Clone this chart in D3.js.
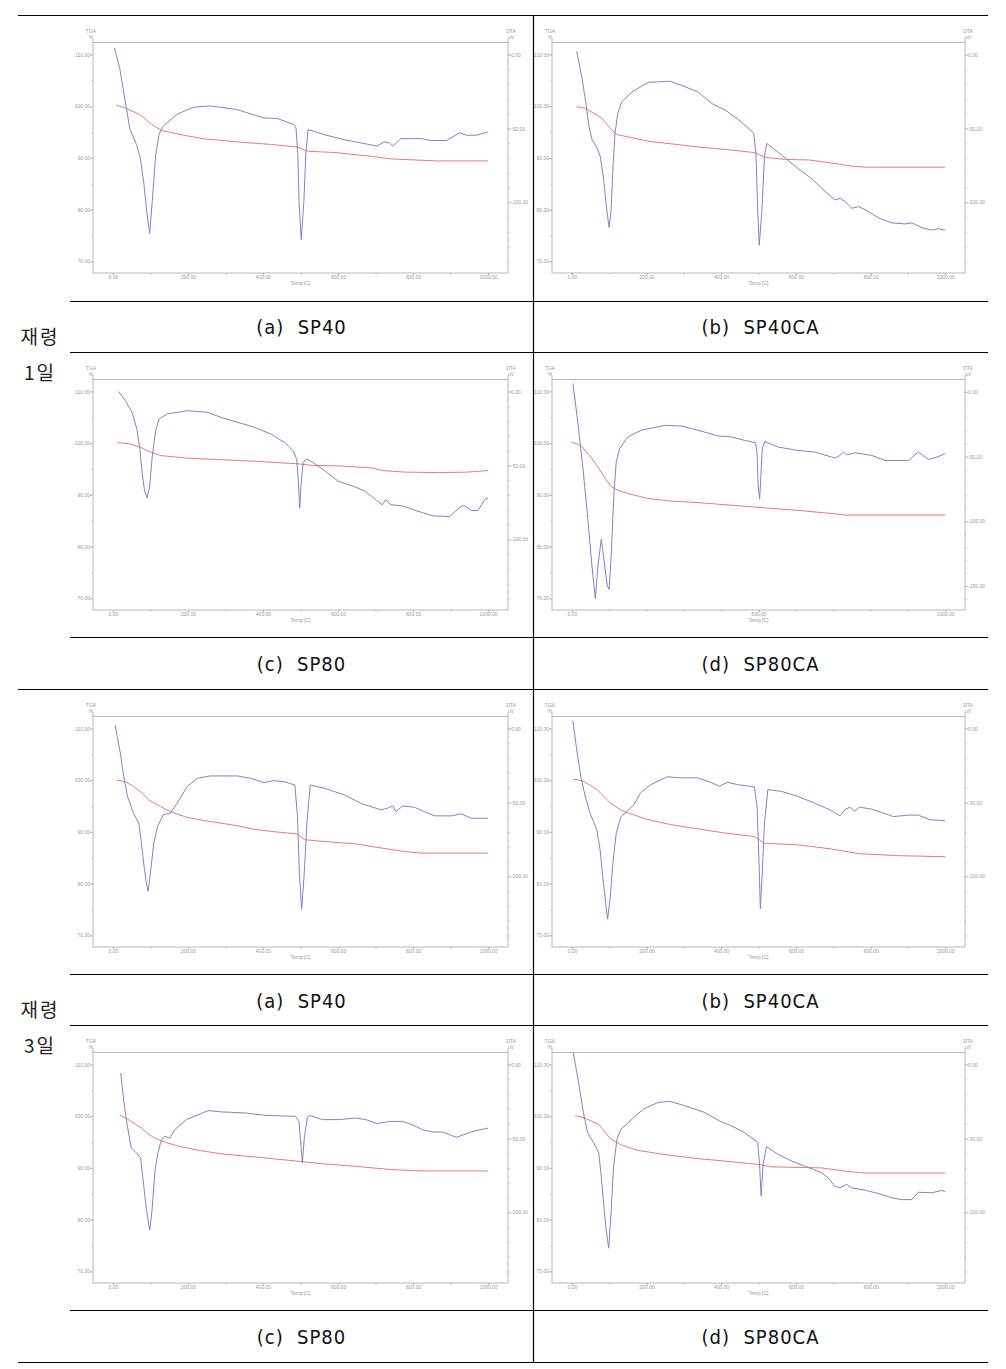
<!DOCTYPE html>
<meta charset="utf-8">

<style>
body { margin: 0; background: #fff; }

.ax text {
  font: 5px "Liberation Sans", Arial, sans-serif;
  fill: #9a9a9a;
}
.ax line { stroke: #b8b8b8; }

.small {
  font: 5px "Liberation Sans", Arial, sans-serif;
  fill: #9a9a9a;
}

.cap {
  font-family: "Liberation Sans Narrow", "DejaVu Sans Condensed", "Liberation Sans", sans-serif;
  font-size: 20px;
  letter-spacing: 1px;
  fill: #111;
}

.age {
  font-family: "Noto Sans CJK KR", sans-serif;
  font-size: 19px;
  letter-spacing: 2px;
  fill: #222;
}
</style>

<div id="chart"></div>

<body>
  <script src="https://d3js.org/d3.v7.min.js"></script>
  <script>
  // ---- values: [temperature C, value] ----
  // age 1 day
  var dta_SP40_1d = [[4,4.5],[18,-9],[31,-29],[45,-50],[63,-61],[73,-70],[82,-86],[91,-108],[98,-121],[105,-99],[114,-68],[123,-54],[134,-48.5],[170,-40.6],[214,-35.7],[259,-34.8],[330,-37.2],[402,-42.9],[438,-43.3],[482,-47.4],[488,-49.7],[493,-67.7],[496,-99.3],[502,-125.3],[509,-99.3],[514,-67.7],[520,-50.8],[563,-54.2],[616,-57.6],[661,-59.8],[704,-62],[723,-59.1],[737,-59.8],[746,-62],[768,-56.9],[822,-56.9],[848,-58.2],[889,-58.2],[924,-53],[942,-54.6],[969,-54.6],[1000,-52.4]];
  var tga_SP40_1d = [[9,100.2],[31,99.7],[71,98.4],[103,96.5],[129,95.3],[188,94.4],[241,93.7],[330,93.1],[420,92.6],[491,92.1],[518,91.3],[598,91.0],[688,90.3],[741,89.8],[866,89.4],[1000,89.4]];

  var dta_SP40CA_1d = [[13,2.2],[27,-15.5],[38,-33.2],[46,-48.7],[54,-57.5],[67,-63],[76,-68.6],[85,-84],[94,-106],[100,-117],[105,-106],[111,-73],[116,-53],[123,-39.8],[134,-32],[161,-25.4],[205,-18.8],[263,-18.1],[295,-21],[339,-25.4],[375,-33.2],[411,-37.6],[447,-44.2],[487,-53.1],[493,-66.4],[498,-106],[502,-129],[509,-106],[516,-68.6],[522,-60.2],[554,-66.4],[607,-77.4],[643,-84],[670,-90.7],[705,-98.4],[719,-97.3],[732,-99.5],[750,-104],[768,-102.9],[786,-105],[822,-110.6],[857,-113.9],[893,-114.6],[911,-113.9],[938,-117.2],[964,-118.8],[982,-117.9],[1000,-118.8]];
  var tga_SP40CA_1d = [[13,99.9],[36,99.6],[80,97.7],[107,95.4],[121,94.5],[161,93.9],[205,93.2],[268,92.7],[339,92.1],[429,91.5],[491,91.0],[518,90.1],[572,89.7],[634,89.6],[697,89.0],[750,88.4],[786,88.2],[1000,88.2]];

  var dta_SP80_1d = [[15,0],[33,-6.1],[51,-14.1],[64,-25.5],[72,-39.1],[78,-55],[84,-66.4],[91,-72],[98,-64.1],[105,-43.6],[114,-26.6],[123,-18.6],[145,-15.2],[199,-13],[252,-14.1],[288,-17.5],[333,-20.9],[378,-24.3],[422,-28.9],[458,-34.5],[481,-40.2],[490,-45.9],[494,-59.6],[498,-78.9],[501,-64.1],[507,-48.2],[516,-45.5],[534,-48.2],[566,-53.9],[601,-60.7],[646,-64.6],[673,-67.5],[700,-73.2],[718,-76.6],[727,-73.2],[740,-76.6],[771,-77.3],[807,-80.5],[852,-84.1],[897,-84.6],[928,-77.7],[937,-77.3],[955,-80.5],[973,-80.5],[991,-73.2],[1000,-72.1]];
  var tga_SP80_1d = [[11,100.1],[42,99.9],[73,99.2],[100,98.3],[127,97.6],[199,97.1],[288,96.8],[378,96.5],[494,96.0],[530,95.7],[601,95.6],[691,95.2],[718,94.7],[780,94.4],[870,94.3],[942,94.4],[1000,94.7]];

  var dta_SP80CA_1d = [[3,6.5],[16,-23.3],[30,-59.5],[43,-98.3],[54,-134.5],[63,-159.8],[70,-134.5],[79,-113.8],[86,-129.3],[95,-150],[100,-152.6],[106,-124.1],[113,-77.6],[119,-54.3],[128,-44],[150,-34.9],[186,-29.7],[249,-25.9],[293,-26.4],[338,-29.7],[392,-34.1],[428,-34.9],[463,-37.5],[492,-39.3],[496,-46.5],[499,-72.4],[503,-82.8],[506,-67.2],[510,-44],[517,-38.3],[553,-42.7],[606,-45.3],[651,-46.5],[705,-51.2],[718,-49.1],[727,-46.5],[736,-48.6],[759,-47.1],[803,-49.1],[839,-53],[902,-53],[928,-46.5],[955,-52.2],[978,-50.4],[1000,-47.8]];
  var tga_SP80CA_1d = [[0,100.2],[25,99.5],[47,97.7],[70,95.4],[92,92.9],[106,91.6],[123,90.9],[159,90.1],[204,89.3],[267,88.8],[338,88.5],[428,88.0],[517,87.5],[606,87.0],[696,86.4],[732,86.1],[1000,86.1]];

  // age 3 days
  var dta_SP40_3d = [[6,2.2],[20,-16.9],[29,-32.6],[39,-46.1],[55,-57.3],[69,-64],[75,-75.3],[82,-91],[89,-104.5],[94,-110.1],[100,-97.7],[109,-77.5],[119,-66.3],[134,-58.4],[153,-57.3],[171,-50.6],[198,-39.3],[225,-33.7],[260,-32.1],[331,-32.1],[367,-33.7],[403,-36.6],[429,-35.3],[456,-36],[485,-38.2],[492,-59.5],[497,-97.7],[503,-122.5],[510,-97.7],[517,-64],[526,-38.2],[563,-40.4],[617,-44.9],[661,-50.6],[715,-55.1],[732,-53.9],[746,-52.4],[755,-56.2],[772,-52.4],[804,-53.3],[830,-56.2],[857,-59.1],[902,-59.1],[928,-57.7],[955,-60.7],[1000,-60.7]];
  var tga_SP40_3d = [[11,100.0],[33,99.7],[55,98.8],[78,97.5],[95,96.2],[127,94.9],[153,93.9],[198,92.8],[242,92.2],[287,91.7],[331,91.2],[376,90.5],[421,90.1],[492,89.6],[510,88.5],[554,88.2],[643,87.7],[732,86.7],[777,86.2],[822,85.9],[1000,85.9]];

  var dta_SP40CA_3d = [[3,5.2],[13,-14.1],[24,-32.3],[36,-45.9],[49,-57.3],[67,-68.6],[76,-82.3],[83,-100.5],[91,-118.6],[96,-128.9],[103,-114.1],[110,-91.4],[119,-70.9],[132,-59.6],[148,-56.1],[166,-51.6],[184,-43.6],[211,-38],[256,-32.7],[292,-33.4],[336,-33.4],[372,-36.4],[395,-39.1],[417,-36.4],[444,-38],[489,-39.5],[496,-52.7],[501,-86.8],[505,-122],[510,-98.2],[516,-64.1],[525,-41.4],[561,-42.5],[605,-45.9],[650,-50.5],[695,-55.5],[718,-59.1],[731,-55],[745,-53.2],[756,-56.1],[771,-53.2],[803,-54.6],[830,-56.8],[861,-59.6],[901,-58.6],[928,-58.6],[960,-61.8],[1000,-62.3]];
  var tga_SP40CA_3d = [[4,100.2],[31,99.8],[67,98.2],[103,95.6],[130,94.3],[157,93.5],[202,92.4],[265,91.4],[336,90.6],[408,89.8],[489,89.1],[516,87.8],[605,87.5],[695,86.7],[767,85.8],[875,85.4],[1000,85.2]];

  var dta_SP80_3d = [[21,-5.7],[29,-24.9],[38,-40.7],[49,-56.6],[63,-59.9],[74,-63.3],[80,-76.9],[89,-97.3],[98,-112],[104,-99.5],[112,-72.4],[119,-61.1],[128,-52],[138,-48.6],[152,-49.8],[165,-44.1],[196,-37.3],[228,-33.9],[254,-31.2],[290,-32.1],[353,-32.8],[406,-34.4],[487,-35.1],[496,-38.5],[501,-54.3],[505,-66.7],[510,-49.8],[518,-36.2],[524,-34.4],[558,-37.3],[603,-37.3],[647,-36.2],[674,-37.3],[705,-40],[737,-38.5],[772,-38.5],[790,-40],[826,-44.1],[853,-45.7],[880,-45.7],[915,-49.3],[960,-45.2],[1000,-43]];
  var tga_SP80_3d = [[18,100.2],[40,99.4],[76,97.7],[103,96.1],[129,95.2],[174,94.2],[228,93.4],[290,92.7],[380,92.1],[505,91.2],[558,90.8],[647,90.3],[737,89.7],[826,89.4],[1000,89.4]];

  var dta_SP80CA_3d = [[4,8],[18,-11.8],[31,-32.3],[42,-45.9],[58,-52.7],[72,-59.6],[78,-73.2],[85,-93.6],[92,-111.8],[99,-124.3],[105,-100.5],[112,-68.6],[121,-50.5],[132,-43.6],[148,-40.2],[166,-35.7],[193,-30],[229,-25.9],[260,-24.8],[300,-27.7],[354,-32.3],[399,-38.6],[426,-41.4],[462,-45.9],[498,-52.7],[503,-68.6],[507,-89.1],[512,-68.6],[521,-55.5],[552,-60.7],[588,-65.2],[623,-68.6],[668,-73.2],[686,-76.6],[704,-82.3],[718,-83.4],[736,-81.1],[749,-83.4],[785,-85],[821,-87.3],[857,-90.2],[884,-91.4],[910,-91.4],[928,-86.4],[964,-86.8],[991,-85.2],[1000,-86.1]];
  var tga_SP80CA_3d = [[9,100.1],[36,99.6],[72,98.4],[103,95.7],[130,94.5],[175,93.4],[247,92.6],[336,91.8],[426,91.2],[507,90.6],[534,90.2],[668,90.0],[740,89.3],[785,89.0],[1000,89.0]];

  // tick labels
  var tempTicks = [0, 200, 400, 600, 800, 1000];
  var tempTicksWide = [0, 500, 1000];
  var tgaTicks = [70, 80, 90, 100, 110];
  var dtaTicks = [0, -50, -100];
  var dtaTicksWide = [0, -50, -100, -150];
  var captions = ["(a)  SP40", "(b)  SP40CA", "(c)  SP80", "(d)  SP80CA",
                  "(a)  SP40", "(b)  SP40CA", "(c)  SP80", "(d)  SP80CA"];
  var ageLabels = [["재령", "1일"], ["재령", "3일"]];

  var panels = [
    {dta: dta_SP40_1d,   tga: tga_SP40_1d,   xt: tempTicks,     yt: dtaTicks,     dtaDom: [-147.8, 8.1]},
    {dta: dta_SP40CA_1d, tga: tga_SP40CA_1d, xt: tempTicks,     yt: dtaTicks,     dtaDom: [-147.8, 8.1]},
    {dta: dta_SP80_1d,   tga: tga_SP80_1d,   xt: tempTicks,     yt: dtaTicks,     dtaDom: [-147.8, 8.1]},
    {dta: dta_SP80CA_1d, tga: tga_SP80CA_1d, xt: tempTicksWide, yt: dtaTicksWide, dtaDom: [-168.5, 9.5]},
    {dta: dta_SP40_3d,   tga: tga_SP40_3d,   xt: tempTicks,     yt: dtaTicks,     dtaDom: [-147.8, 8.1]},
    {dta: dta_SP40CA_3d, tga: tga_SP40CA_3d, xt: tempTicks,     yt: dtaTicks,     dtaDom: [-147.8, 8.1]},
    {dta: dta_SP80_3d,   tga: tga_SP80_3d,   xt: tempTicks,     yt: dtaTicks,     dtaDom: [-147.8, 8.1]},
    {dta: dta_SP80CA_3d, tga: tga_SP80CA_3d, xt: tempTicks,     yt: dtaTicks,     dtaDom: [-147.8, 8.1]}
  ];

  // ---- layout ----
  var W = 1006, H = 1369;
  var chartTops = [15, 352, 689, 1025];
  var chartH = 286, capH = 51;
  var tabLeft = 18, innerLeft = 70, mid = 533, tabRight = 988;
  var frameX = [[93, 508], [552, 965]];
  var axisColor = "#b8b8b8";

  var svg = d3.select("#chart")
    .append("svg")
    .attr("width", W)
    .attr("height", H);

  var fmt = function(d) { return d.toFixed(2); };

  panels.forEach(function(p, i) {
    var row = Math.floor(i / 2), col = i % 2;
    var top = chartTops[row];
    var fx0 = frameX[col][0], fx1 = frameX[col][1];
    var fy0 = top + 27.5, fy1 = top + 258;

    var x = d3.scaleLinear().domain([-53, 1053]).range([fx0, fx1]);
    var yL = d3.scaleLinear().domain([67.75, 112.3]).range([fy1, fy0]);
    var yR = d3.scaleLinear().domain(p.dtaDom).range([fy1, fy0]);

    var g = svg.append("g");

    // frame
    g.append("rect")
      .attr("x", fx0).attr("y", fy0)
      .attr("width", fx1 - fx0).attr("height", fy1 - fy0)
      .attr("fill", "none")
      .attr("stroke", axisColor);
    g.append("line").attr("x1", fx0).attr("x2", fx0).attr("y1", fy0 - 4).attr("y2", fy0).attr("stroke", axisColor);
    g.append("line").attr("x1", fx1).attr("x2", fx1).attr("y1", fy0 - 4).attr("y2", fy0).attr("stroke", axisColor);

    // left TGA axis
    var la = g.append("g").attr("class", "ax")
      .attr("transform", "translate(" + fx0 + ",0)")
      .call(d3.axisLeft(yL).tickValues(tgaTicks).tickFormat(fmt).tickSize(3).tickPadding(0));
    la.select(".domain").remove();
    var lm = g.append("g").attr("class", "ax")
      .attr("transform", "translate(" + fx0 + ",0)")
      .call(d3.axisLeft(yL).tickValues(d3.range(70, 112, 5)).tickFormat("").tickSize(1.5));
    lm.select(".domain").remove();

    // right DTA axis
    var ra = g.append("g").attr("class", "ax")
      .attr("transform", "translate(" + fx1 + ",0)")
      .call(d3.axisRight(yR).tickValues(p.yt).tickFormat(fmt).tickSize(3).tickPadding(0));
    ra.select(".domain").remove();
    var rm = g.append("g").attr("class", "ax")
      .attr("transform", "translate(" + fx1 + ",0)")
      .call(d3.axisRight(yR).tickValues(d3.range(0, p.dtaDom[0], -10)).tickFormat("").tickSize(1.5));
    rm.select(".domain").remove();

    // bottom temperature axis
    var ba = g.append("g").attr("class", "ax")
      .attr("transform", "translate(0," + fy1 + ")")
      .call(d3.axisBottom(x).tickValues(p.xt).tickFormat(fmt).tickSize(2).tickPadding(0));
    ba.select(".domain").remove();
    var bm = g.append("g").attr("class", "ax")
      .attr("transform", "translate(0," + fy1 + ")")
      .call(d3.axisBottom(x).tickValues(d3.range(0, 1001, 100)).tickFormat("").tickSize(1.5));
    bm.select(".domain").remove();

    // axis titles
    g.append("text").attr("class", "small").attr("x", fx0 - 2).attr("y", fy0 - 10).attr("text-anchor", "middle").text("TGA");
    g.append("text").attr("class", "small").attr("x", fx0 - 2).attr("y", fy0 - 4).attr("text-anchor", "middle").text("%");
    g.append("text").attr("class", "small").attr("x", fx1 + 3).attr("y", fy0 - 10).attr("text-anchor", "middle").text("DTA");
    g.append("text").attr("class", "small").attr("x", fx1 + 3).attr("y", fy0 - 4).attr("text-anchor", "middle").text("uV");
    g.append("text").attr("class", "small").attr("x", x(500)).attr("y", fy1 + 12).attr("text-anchor", "middle").text("Temp [C]");

    // curves
    g.append("path")
      .datum(p.tga)
      .attr("fill", "none")
      .attr("stroke", "#e97b7b")
      .attr("stroke-width", 1)
      .attr("d", d3.line().x(function(d) { return x(d[0]); }).y(function(d) { return yL(d[1]); }));

    g.append("path")
      .datum(p.dta)
      .attr("fill", "none")
      .attr("stroke", "#8282c6")
      .attr("stroke-width", 1)
      .attr("d", d3.line().x(function(d) { return x(d[0]); }).y(function(d) { return yR(d[1]); }));

    // caption row
    svg.append("text")
      .attr("class", "cap")
      .attr("x", col === 0 ? (innerLeft + mid) / 2 : (mid + tabRight) / 2)
      .attr("y", top + chartH + capH / 2)
      .attr("text-anchor", "middle")
      .attr("dominant-baseline", "central")
      .style("white-space", "pre")
      .text(captions[i]);
  });

  // age labels, centred in the merged left cell
  ageLabels.forEach(function(lines, k) {
    var mid0 = (chartTops[2 * k] + (k === 0 ? chartTops[2] : 1362)) / 2;
    lines.forEach(function(t, j) {
      svg.append("text")
        .attr("class", "age")
        .attr("x", 40)
        .attr("y", mid0 - 17 + j * 36)
        .attr("text-anchor", "middle")
        .attr("dominant-baseline", "central")
        .text(t);
    });
  });

  // table rules
  var hRules = [
    [15, tabLeft], [301, innerLeft], [352, innerLeft], [637, innerLeft],
    [689, tabLeft], [974, innerLeft], [1025, innerLeft], [1310, innerLeft],
    [1362, tabLeft]
  ];
  svg.append("g").selectAll("line")
    .data(hRules)
    .enter()
    .append("line")
    .attr("x1", function(d) { return d[1]; })
    .attr("x2", tabRight)
    .attr("y1", function(d) { return d[0] + 0.5; })
    .attr("y2", function(d) { return d[0] + 0.5; })
    .attr("stroke", "#000")
    .attr("stroke-width", 1.2);

  svg.append("line")
    .attr("x1", mid + 0.5).attr("x2", mid + 0.5)
    .attr("y1", 15).attr("y2", 1362)
    .attr("stroke", "#000")
    .attr("stroke-width", 1.2);
  </script>
</body>
